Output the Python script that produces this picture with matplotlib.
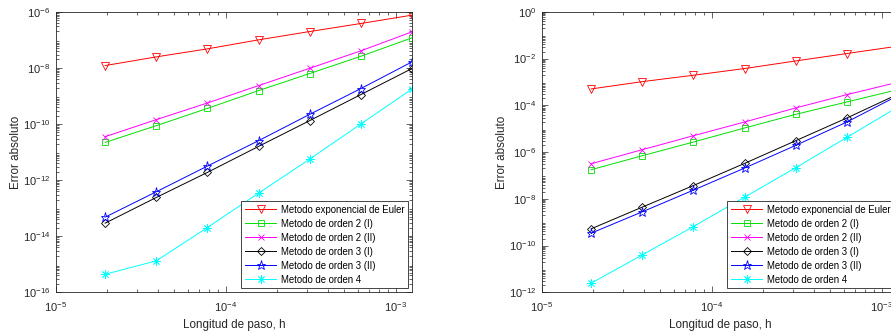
import numpy as np
import matplotlib
matplotlib.use('Agg')
import matplotlib.pyplot as plt
from matplotlib.ticker import LogLocator, LogFormatterSciNotation, NullFormatter

plt.rcParams['font.family'] = ['Liberation Sans', 'DejaVu Sans']
plt.rcParams['mathtext.fontset'] = 'custom'
plt.rcParams['mathtext.rm'] = 'Liberation Sans'
plt.rcParams['mathtext.default'] = 'regular'

# Step sizes (h)
h = [1.953125e-5, 3.90625e-5, 7.8125e-5, 1.5625e-4, 3.125e-4, 6.25e-4, 1.25e-3]

labels = ['Metodo exponencial de Euler', 'Metodo de orden 2 (I)', 'Metodo de orden 2 (II)',
          'Metodo de orden 3 (I)', 'Metodo de orden 3 (II)', 'Metodo de orden 4']

# Left panel errors
left_euler = [1.21e-8, 2.47e-8, 4.77e-8, 1.0e-7, 1.98e-7, 3.83e-7, 7.6e-7]
left_o2a = [2.2e-11, 8.7e-11, 3.6e-10, 1.55e-9, 6.3e-9, 2.6e-8, 1.18e-7]
left_o2b = [3.53e-11, 1.43e-10, 5.6e-10, 2.34e-9, 9.7e-9, 4.05e-8, 1.93e-7]
left_o3a = [2.91e-14, 2.4e-13, 1.88e-12, 1.59e-11, 1.32e-10, 1.12e-9, 9.5e-9]
left_o3b = [4.77e-14, 3.83e-13, 3.16e-12, 2.54e-11, 2.21e-10, 1.83e-9, 1.64e-8]
left_o4 = [4.4e-16, 1.32e-15, 2.04e-14, 3.43e-13, 5.6e-12, 1.0e-10, 1.78e-9]

# Right panel errors
right_euler = [5.0e-4, 1.03e-3, 1.93e-3, 3.73e-3, 7.9e-3, 1.64e-2, 3.4e-2]
right_o2a = [1.75e-7, 6.97e-7, 2.68e-6, 1.07e-5, 4.1e-5, 1.39e-4, 4.7e-4]
right_o2b = [3.16e-7, 1.26e-6, 5.0e-6, 1.93e-5, 7.7e-5, 2.86e-4, 9.7e-4]
right_o3a = [5.2e-10, 4.4e-9, 3.7e-8, 3.27e-7, 3.06e-6, 2.86e-5, 3.0e-4]
right_o3b = [3.38e-10, 2.77e-9, 2.35e-8, 2.06e-7, 1.93e-6, 1.93e-5, 2.6e-4]
right_o4 = [2.44e-12, 3.98e-11, 6.5e-10, 1.18e-8, 2.13e-7, 4.25e-6, 8.5e-5]

# color, marker, marker size (MATLAB-like: v, s, x, d, p, *)
styles = [('red', 'v', 5.5), ('#00e000', 's', 4.5), ('magenta', 'x', 4.5),
          ('black', 'D', 4.3), ('blue', '*', 6.5), ('cyan', (8, 2, 0), 6)]

axis_gray = '#262626'


def draw_panel(ax, series, ylim, yticks):
    for (color, marker, ms), y, lab in zip(styles, series, labels):
        ax.loglog(h, y, color=color, marker=marker, markersize=ms, markerfacecolor='none',
                  markeredgewidth=0.6, linewidth=0.7, label=lab)
    ax.set_xlim(1e-5, 1.25e-3)
    ax.set_ylim(*ylim)
    ax.set_yticks(yticks)
    ax.xaxis.set_major_locator(LogLocator(base=10, numticks=10))
    ax.xaxis.set_major_formatter(LogFormatterSciNotation())
    ax.yaxis.set_major_formatter(LogFormatterSciNotation())
    ax.xaxis.set_minor_locator(LogLocator(base=10, subs=np.arange(2, 10), numticks=20))
    ax.yaxis.set_minor_locator(LogLocator(base=10, subs=np.arange(2, 10), numticks=40))
    ax.xaxis.set_minor_formatter(NullFormatter())
    ax.yaxis.set_minor_formatter(NullFormatter())
    ax.tick_params(which='both', direction='in', top=True, right=True,
                   colors=axis_gray, labelsize=8, width=0.5)
    ax.tick_params(which='major', length=4)
    ax.tick_params(which='minor', length=2)
    ax.tick_params(axis='x', which='major', pad=6)
    ax.tick_params(axis='y', which='major', pad=4)
    for sp in ax.spines.values():
        sp.set_color(axis_gray)
        sp.set_linewidth(0.6)
    ax.set_xlabel('Longitud de paso, h', fontsize=8.4, color=axis_gray, labelpad=3)
    ax.set_ylabel('Error absoluto', fontsize=8.4, color=axis_gray, labelpad=0.5)
    leg = ax.legend(loc='lower right', fontsize=6.9, fancybox=False, framealpha=1,
                    edgecolor=axis_gray, borderaxespad=0.45, handlelength=3.3,
                    borderpad=0.35, labelspacing=0.42, handletextpad=0.45)
    leg.get_frame().set_linewidth(0.6)


fig = plt.figure(figsize=(8.91, 3.36), dpi=100)
ax1 = fig.add_axes([55.7 / 891, 1 - 292.3 / 336, 356.3 / 891, 280.5 / 336])
ax2 = fig.add_axes([541.7 / 891, 1 - 292.3 / 336, 356.3 / 891, 280.5 / 336])

draw_panel(ax1, [left_euler, left_o2a, left_o2b, left_o3a, left_o3b, left_o4],
           (1e-16, 1e-6), [1e-16, 1e-14, 1e-12, 1e-10, 1e-8, 1e-6])
draw_panel(ax2, [right_euler, right_o2a, right_o2b, right_o3a, right_o3b, right_o4],
           (1e-12, 1e0), [1e-12, 1e-10, 1e-8, 1e-6, 1e-4, 1e-2, 1e0])

fig.savefig('out.png', dpi=100)
